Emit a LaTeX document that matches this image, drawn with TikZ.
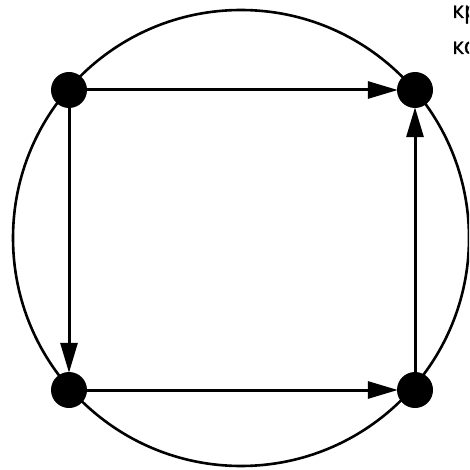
\documentclass[tikz,border=0pt]{standalone}
\usepackage{fontspec}
\newfontfamily\txtfont[FakeBold=1.2]{Open Sans}
\usetikzlibrary{arrows.meta}
\tikzset{
  dot/.style={circle,fill=black,inner sep=0pt,minimum size=36pt},
  link/.style={line width=3pt,-{Triangle[length=30pt,width=17pt]},shorten >=-1pt},
  lbl/.style={anchor=base west,inner sep=0pt,font=\txtfont\fontsize{23pt}{26pt}\selectfont}
}
\begin{document}
\begin{tikzpicture}[x=1pt,y=-1pt]
\useasboundingbox (0,0) rectangle (469,470);
\clip (0,0) rectangle (469,470);
\draw[line width=2.6pt] (241,238) circle[radius=228];
\node[dot] (a) at (69,90) {};
\node[dot] (b) at (415,90) {};
\node[dot] (c) at (69,390) {};
\node[dot] (d) at (415,390) {};
\draw[link] (a) -- (b);
\draw[link] (a) -- (c);
\draw[link] (c) -- (d);
\draw[link] (d) -- (b);
\node[lbl] (t1) at (452,18) {кр};
\node[lbl] (t2) at (452,54) {ко};
\end{tikzpicture}
\end{document}
